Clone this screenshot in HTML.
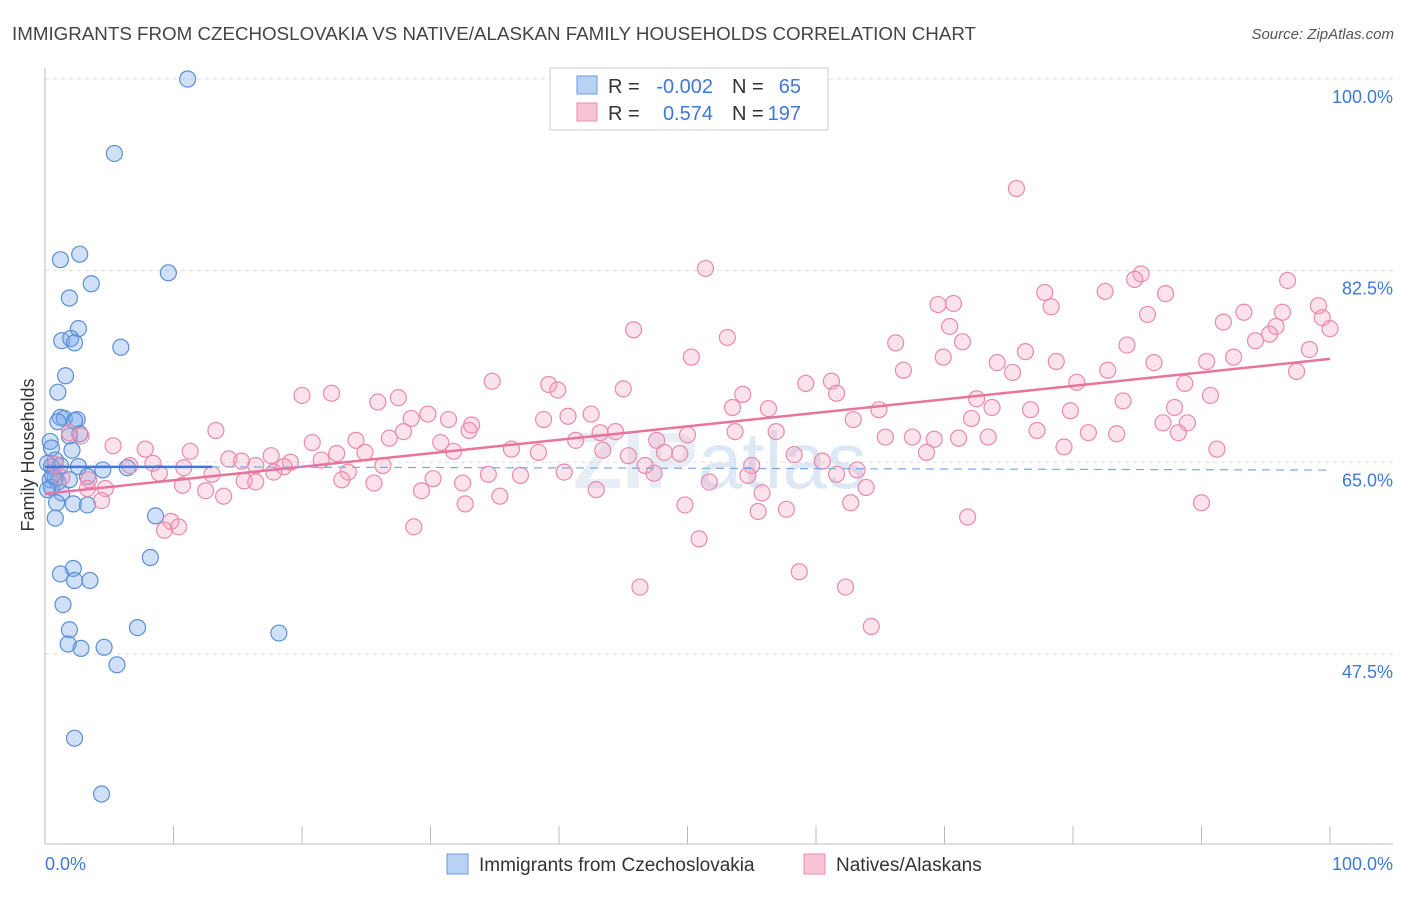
<!DOCTYPE html>
<html><head><meta charset="utf-8">
<style>
body{margin:0;background:#fff;font-family:"Liberation Sans",sans-serif;}
svg text{font-family:"Liberation Sans",sans-serif;}
</style></head>
<body>
<svg id="chart" width="1406" height="892" viewBox="0 0 1406 892">
<text x="12" y="40" font-size="18" fill="#444" textLength="964" lengthAdjust="spacingAndGlyphs">IMMIGRANTS FROM CZECHOSLOVAKIA VS NATIVE/ALASKAN FAMILY HOUSEHOLDS CORRELATION CHART</text>
<text x="1394" y="39" font-size="15" fill="#555" font-style="italic" text-anchor="end">Source: ZipAtlas.com</text>
<text x="720" y="488" font-size="80" fill="#e8eef6" text-anchor="middle" font-weight="bold">ZIP<tspan font-weight="normal" fill="#dde8f5">atlas</tspan></text>
<g id="grid"></g>
<g id="axes"></g>
<g id="blue"></g>
<g id="pink"></g>
<g id="lines"></g>
<text transform="translate(34,455) rotate(-90)" font-size="18" fill="#333" text-anchor="middle">Family Households</text>
<g>
<rect x="550" y="68" width="278" height="62" fill="#fff" stroke="#ccc"/>
<rect x="577" y="76" width="20" height="18" fill="#b9d1f3" stroke="#6b9be0"/>
<rect x="577" y="103" width="20" height="18" fill="#f8c4d5" stroke="#ea8eae"/>
<text x="608" y="93" font-size="20" fill="#333">R =</text>
<text x="713" y="93" font-size="20" fill="#3f78d8" text-anchor="end">-0.002</text>
<text x="732" y="93" font-size="20" fill="#333">N =</text>
<text x="801" y="93" font-size="20" fill="#3f78d8" text-anchor="end">65</text>
<text x="608" y="120" font-size="20" fill="#333">R =</text>
<text x="713" y="120" font-size="20" fill="#3f78d8" text-anchor="end">0.574</text>
<text x="732" y="120" font-size="20" fill="#333">N =</text>
<text x="801" y="120" font-size="20" fill="#3f78d8" text-anchor="end">197</text>
</g>
<g>
<rect x="447" y="854" width="21" height="20" fill="#b9d1f3" stroke="#6b9be0"/>
<text x="479" y="871" font-size="19" fill="#333">Immigrants from Czechoslovakia</text>
<rect x="804" y="854" width="21" height="20" fill="#f8c4d5" stroke="#ea8eae"/>
<text x="836" y="871" font-size="19" fill="#333">Natives/Alaskans</text>
</g>
</svg>
<script>
const yTicks=[100,82.5,65,47.5];
const yTickLabels=["100.0%","82.5%","65.0%","47.5%"];
const xTickCount=10;
const blueR=-0.002;
const blueSolidEnd=13;
const blueX=[11.1,5.4,9.6,2.7,1.2,3.6,1.9,2.6,1.3,2.0,2.3,5.9,1.6,1.0,1.2,1.5,2.5,2.3,1.0,2.7,1.9,2.1,0.4,0.5,0.8,0.5,2.6,4.5,6.4,3.3,0.8,0.4,1.0,0.5,0.2,1.3,0.9,2.2,3.3,0.8,8.6,8.2,2.2,1.2,2.3,3.5,1.4,1.9,7.2,1.8,2.8,4.6,5.6,18.2,2.3,4.4,0.2,0.6,1.2,1.9];
const blueY=[100,93.2,82.3,84.0,83.5,81.3,80.0,77.2,76.1,76.3,75.9,75.5,72.9,71.4,69.1,69.0,68.9,68.8,68.7,67.6,67.4,66.1,66.9,66.3,65.2,64.6,64.6,64.3,64.5,63.7,63.6,63.4,63.2,62.7,62.5,62.2,61.3,61.2,61.1,59.9,60.1,56.3,55.3,54.8,54.2,54.2,52.0,49.7,49.9,48.4,48.0,48.1,46.5,49.4,39.8,34.7,64.9,63.8,64.7,63.4];
const pinkX=[75.6,51.4,85.3,84.8,96.7,77.8,82.5,87.2,69.5,70.7,78.3,99.1,93.3,85.8,96.3,91.7,99.4,100,95.8,70.4,45.8,53.1,95.3,94.2,66.2,71.4,84.2,98.4,76.3,69.9,50.3,92.5,74.1,78.7,86.3,90.4,66.8,75.3,82.7,97.4,34.8,39.2,59.2,61.2,80.3,88.7,39.9,45.0,54.3,61.6,20.0,22.3,27.5,25.9,90.7,83.9,72.5,53.5,56.3,64.9,76.7,79.8,87.9,73.7,29.8,28.5,31.4,33.2,40.7,42.5,38.8,62.9,72.1,13.3,27.9,26.8,24.2,41.3,20.8,30.8,33.0,81.2,83.4,65.4,69.2,67.5,71.1,88.9,87.0,88.2,77.2,73.4,43.2,44.4,47.6,50.0,53.7,56.9,2.8,1.9,5.3,7.8,11.3,14.3,15.3,17.6,19.1,18.6,21.5,22.7,24.9,26.3,31.8,36.3,38.4,43.4,45.4,48.2,49.4,58.3,60.5,68.6,91.2,79.3,6.6,8.4,8.9,10.8,16.4,17.8,23.6,23.1,25.6,30.2,32.5,34.5,37.0,40.4,46.7,47.4,55.0,54.7,61.6,63.2,63.9,51.7,13.0,15.5,16.4,3.4,3.3,4.7,10.7,12.5,13.9,29.3,35.4,42.9,32.7,49.8,55.8,55.5,57.7,62.7,90.0,71.8,9.8,9.3,10.4,28.7,50.9,58.7,46.3,62.3,64.3,4.4,0.8,1.3];
const pinkY=[90.0,82.7,82.2,81.7,81.6,80.5,80.6,80.4,79.4,79.5,79.2,79.3,78.7,78.5,78.7,77.8,78.2,77.2,77.4,77.4,77.1,76.4,76.7,76.1,75.9,76.0,75.7,75.3,75.1,74.6,74.6,74.6,74.1,74.2,74.1,74.2,73.4,73.2,73.4,73.3,72.4,72.1,72.2,72.4,72.3,72.2,71.6,71.7,71.2,71.3,71.1,71.3,70.9,70.5,71.1,70.6,70.8,70.0,69.9,69.8,69.8,69.7,70.0,70.0,69.4,69.0,68.9,68.4,69.2,69.4,68.9,68.9,69.0,67.9,67.8,67.2,67.0,67.0,66.8,66.8,67.9,67.7,67.6,67.3,67.1,67.3,67.2,68.6,68.6,67.7,67.9,67.3,67.7,67.8,67.0,67.5,67.8,67.8,67.4,67.7,66.5,66.2,66.0,65.3,65.1,65.6,65.0,64.6,65.2,65.8,65.9,64.7,66.0,66.2,65.9,66.1,65.6,65.9,65.8,65.7,65.1,65.9,66.2,66.4,64.7,64.9,64.0,64.5,64.7,64.1,64.1,63.4,63.1,63.5,63.1,63.9,63.8,64.1,64.7,64.0,64.7,63.8,63.9,64.3,62.7,63.2,63.9,63.3,63.2,63.4,62.6,62.6,62.9,62.4,61.9,62.4,61.9,62.5,61.2,61.1,62.2,60.5,60.7,61.3,61.3,60.0,59.6,58.8,59.1,59.1,58.0,55.0,53.6,53.6,50.0,61.5,64.8,63.6];

const NS='http://www.w3.org/2000/svg';
const X0=45,X1=1330,YT=79,PX=10.95;
function sx(v){return X0+(X1-X0)*v/100;}
function sy(v){return YT+(100-v)*PX;}
function mk(tag,attrs,parent){const e=document.createElementNS(NS,tag);for(const k in attrs)e.setAttribute(k,attrs[k]);parent.appendChild(e);return e;}
const grid=document.getElementById('grid'),axes=document.getElementById('axes');
yTicks.forEach((t,i)=>{
  const l=mk('line',{x1:X0,x2:1393,y1:sy(t),y2:sy(t),stroke:'#ddd','stroke-dasharray':'4,4'},grid);
  
  
  const tx=mk('text',{x:1393,y:sy(t)+24,'font-size':18,fill:'#3f78d8','text-anchor':'end'},axes);
  tx.textContent=yTickLabels[i];
  
  
});
const ya=mk('line',{x1:X0,x2:X0,y1:68,y2:844,stroke:'#bbb'},axes);


const xa=mk('line',{x1:X0,x2:1393,y1:844,y2:844,stroke:'#bbb'},axes);


for(let i=0;i<=xTickCount;i++){
  const v=i*100/xTickCount;
  const tk=mk('line',{x1:sx(v),x2:sx(v),y1:826,y2:844,stroke:'#bbb'},axes);
  
  
}
[[0,'0.0%','start',X0],[100,'100.0%','end',1393]].forEach(a=>{
  const t=mk('text',{x:a[3],y:870,'font-size':18,fill:'#3f78d8','text-anchor':a[2]},axes);
  t.textContent=a[1];
  
  
});
function dots(xs,ys,g,fill,stroke,name){
  xs.forEach((x,i)=>{
    const c=mk('circle',{cx:sx(x),cy:sy(ys[i]),r:8,fill:fill,stroke:stroke,'stroke-width':1.2},g);
    
    
  });
}
dots(blueX,blueY,document.getElementById('blue'),'rgba(120,165,235,0.35)','#5b8fd6','blue-point');
dots(pinkX,pinkY,document.getElementById('pink'),'rgba(244,160,190,0.3)','#e98aab','pink-point');
function fit(xs,ys){const n=xs.length;let mx=0,my=0;for(let i=0;i<n;i++){mx+=xs[i];my+=ys[i];}mx/=n;my/=n;let sxy=0,sxx=0;for(let i=0;i<n;i++){sxy+=(xs[i]-mx)*(ys[i]-my);sxx+=(xs[i]-mx)**2;}const b=sxy/sxx;return [my-b*mx,b];}
const lg=document.getElementById('lines');
const pf=fit(pinkX,pinkY);
const pl=mk('line',{x1:sx(0),y1:sy(pf[0]),x2:sx(100),y2:sy(pf[0]+pf[1]*100),stroke:'#e8739c','stroke-width':2.5},lg);


// blue: near-zero correlation -> flat line at mean
const bMean=blueY.reduce((a,b)=>a+b,0)/blueY.length;
const bSlope=blueR*0.1;
const bl=mk('line',{x1:sx(0),y1:sy(bMean),x2:sx(blueSolidEnd),y2:sy(bMean+bSlope*blueSolidEnd),stroke:'#3f78d8','stroke-width':2.5},lg);


const bd=mk('line',{x1:sx(blueSolidEnd),y1:sy(bMean+bSlope*blueSolidEnd),x2:sx(100),y2:sy(bMean+bSlope*100)+3,stroke:'#7fa6e3','stroke-width':1.2,'stroke-dasharray':'8,6'},lg);


</script>
</body></html>
